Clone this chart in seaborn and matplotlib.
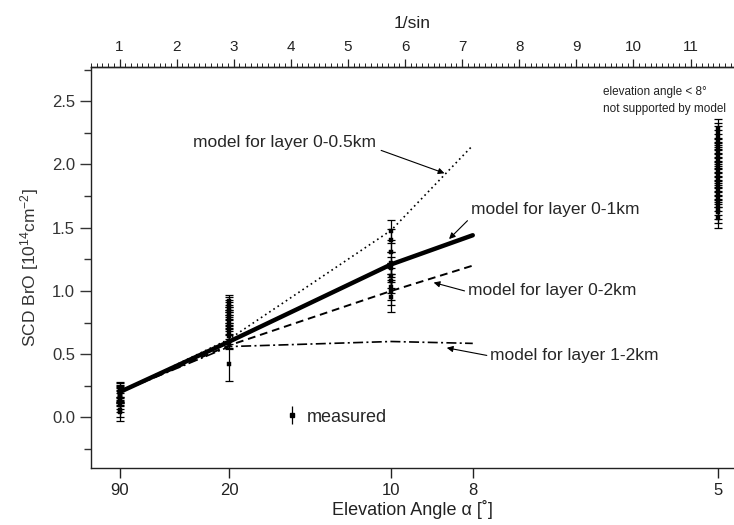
import numpy as np
import pandas as pd
import matplotlib
matplotlib.use("Agg")
import matplotlib.pyplot as plt
import seaborn as sns

# Elevation angles of the viewing directions (degrees)
model_angles = [90, 20, 10, 8]
tick_angles = [90, 20, 10, 8, 5]

# Modelled BrO slant column densities [1e14 cm^-2] for different layer heights
model_0_05km = [0.20, 0.62, 1.48, 2.15]
model_0_1km = [0.20, 0.60, 1.21, 1.44]
model_0_2km = [0.20, 0.57, 1.00, 1.20]
model_1_2km = [0.20, 0.56, 0.60, 0.585]

# Measured SCDs and their errors, grouped by elevation angle
meas_90 = [0.22, 0.21, 0.20, 0.19, 0.18, 0.17, 0.16, 0.15, 0.13, 0.10, 0.06, 0.04]
err_90 = [0.06, 0.06, 0.06, 0.06, 0.06, 0.06, 0.06, 0.06, 0.06, 0.06, 0.06, 0.07]
meas_20 = [0.92, 0.90, 0.88, 0.86, 0.84, 0.82, 0.80, 0.78, 0.76, 0.73, 0.70, 0.67, 0.64, 0.60, 0.42]
err_20 = [0.05, 0.05, 0.05, 0.05, 0.05, 0.05, 0.05, 0.05, 0.05, 0.05, 0.05, 0.05, 0.06, 0.06, 0.13]
meas_10 = [1.47, 1.40, 1.31, 1.22, 1.18, 1.12, 1.08, 1.03, 1.00, 0.95]
err_10 = [0.09, 0.09, 0.09, 0.09, 0.09, 0.10, 0.10, 0.10, 0.11, 0.12]
meas_5 = [2.28, 2.25, 2.22, 2.19, 2.16, 2.13, 2.10, 2.07, 2.04, 2.01, 1.98, 1.95,
          1.92, 1.89, 1.86, 1.83, 1.80, 1.77, 1.74, 1.71, 1.68, 1.65, 1.62, 1.58]
err_5 = [0.08] * len(meas_5)


def inv_sin(angle_deg):
    return 1.0 / np.sin(np.radians(angle_deg))


sns.set_theme(style="white")
plt.rcParams["font.family"] = ["Liberation Sans", "DejaVu Sans"]
plt.rcParams["mathtext.default"] = "regular"

fig = plt.figure(figsize=(7.34, 5.25), dpi=100)
ax = fig.add_axes([91 / 734, 57 / 525, 643 / 734, 401 / 525])

# model curves
models = pd.DataFrame({
    "x": np.tile(inv_sin(np.array(model_angles)), 4),
    "scd": model_0_05km + model_0_1km + model_0_2km + model_1_2km,
    "layer": (["0-0.5km"] * 4 + ["0-1km"] * 4 + ["0-2km"] * 4 + ["1-2km"] * 4),
})
styles = {
    "0-0.5km": dict(ls=(0, (1, 2)), lw=1.2),
    "0-1km": dict(ls="-", lw=3.2),
    "0-2km": dict(ls=(0, (4, 2.5)), lw=1.4),
    "1-2km": dict(ls=(0, (6, 2, 1.2, 2)), lw=1.2),
}
for layer, st in styles.items():
    sub = models[models["layer"] == layer]
    sns.lineplot(data=sub, x="x", y="scd", ax=ax, color="black",
                 linestyle=st["ls"], linewidth=st["lw"], legend=False,
                 estimator=None, sort=False)

# measurements
meas = pd.DataFrame({
    "x": np.concatenate([
        np.full(len(meas_90), inv_sin(90)), np.full(len(meas_20), inv_sin(20)),
        np.full(len(meas_10), inv_sin(10)), np.full(len(meas_5), inv_sin(5))]),
    "scd": meas_90 + meas_20 + meas_10 + meas_5,
    "err": err_90 + err_20 + err_10 + err_5,
})
ax.errorbar(meas["x"], meas["scd"], yerr=meas["err"], fmt="none",
            ecolor="black", elinewidth=0.9, capsize=3, capthick=0.9, zorder=3)
sns.scatterplot(data=meas, x="x", y="scd", ax=ax, marker="s", s=12,
                color="black", edgecolor="black", linewidth=0.3, zorder=4)

# key for the measured points
key = ax.errorbar([], [], yerr=[], fmt="s", ms=3.5, color="black",
                  ecolor="black", elinewidth=0.9, capsize=3, capthick=0.9)
ax.legend([key], ["measured"], loc="center left", bbox_to_anchor=(0.279, 0.127),
          frameon=False, handlelength=0.6, handletextpad=0.5, fontsize=13)

# annotations
arrow = dict(arrowstyle="-|>", color="black", lw=0.8, mutation_scale=9,
             shrinkA=0, shrinkB=0)
fs = 12.5
ax.annotate("model for layer 0-0.5km", xy=(6.69, 1.93), xytext=(2.28, 2.17),
            fontsize=fs, va="center", ha="left", arrowprops=dict(arrow, relpos=(1.03, 0.0)))
ax.annotate("model for layer 0-1km", xy=(6.77, 1.41), xytext=(7.15, 1.64),
            fontsize=fs, va="center", ha="left", arrowprops=dict(arrow, relpos=(0.0, 0.0)))
ax.annotate("model for layer 0-2km", xy=(6.50, 1.066), xytext=(7.10, 1.00),
            fontsize=fs, va="center", ha="left", arrowprops=dict(arrow, relpos=(-0.02, 0.5)))
ax.annotate("model for layer 1-2km", xy=(6.73, 0.55), xytext=(7.49, 0.49),
            fontsize=fs, va="center", ha="left", arrowprops=dict(arrow, relpos=(-0.02, 0.5)))
ax.text(9.46, 2.57, "elevation angle < 8°", fontsize=8.5, va="center", ha="left",
        color="#222222")
ax.text(9.46, 2.44, "not supported by model", fontsize=8.5, va="center", ha="left",
        color="#222222")

# axes ranges and ticks
ax.set_xlim(0.5, 11.76)
ax.set_ylim(-0.4, 2.77)
ax.set_xticks(inv_sin(np.array(tick_angles)))
ax.set_xticklabels([str(a) for a in tick_angles])
ax.set_yticks(np.arange(0, 2.51, 0.5))
ax.set_yticklabels([f"{v:.1f}" for v in np.arange(0, 2.51, 0.5)])
ax.set_yticks(np.arange(-0.25, 2.76, 0.5), minor=True)
ax.tick_params(axis="x", which="major", direction="out", length=7, width=1,
               labelsize=12, bottom=True, colors="#222222")
ax.tick_params(axis="y", which="major", direction="out", length=8, width=1,
               labelsize=12, left=True, colors="#333333")
ax.tick_params(axis="y", which="minor", direction="out", length=5, width=1, left=True,
               colors="#333333")
ax.set_xlabel("Elevation Angle α [˚]", fontsize=13, color="#222222", labelpad=2)
ax.set_ylabel("SCD BrO [10$^{14}$cm$^{-2}$]", fontsize=12.5, color="#333333", labelpad=8)

top = ax.secondary_xaxis("top")
top.set_xticks(np.arange(1, 12, 1))
top.set_xticks(np.arange(0.5, 11.8, 0.1), minor=True)
top.tick_params(which="major", direction="out", length=6, width=0.9, labelsize=11,
                colors="#222222", pad=3)
top.tick_params(which="minor", direction="out", length=3, width=0.7, colors="#222222")
top.set_xlabel("1/sin", fontsize=12.5, color="#222222", labelpad=9)
top.spines["top"].set_linewidth(1)

for side in ["left", "bottom", "top"]:
    ax.spines[side].set_visible(True)
    ax.spines[side].set_color("#222222")
    ax.spines[side].set_linewidth(1)
ax.spines["right"].set_visible(False)

fig.savefig("out.png", dpi=100)
